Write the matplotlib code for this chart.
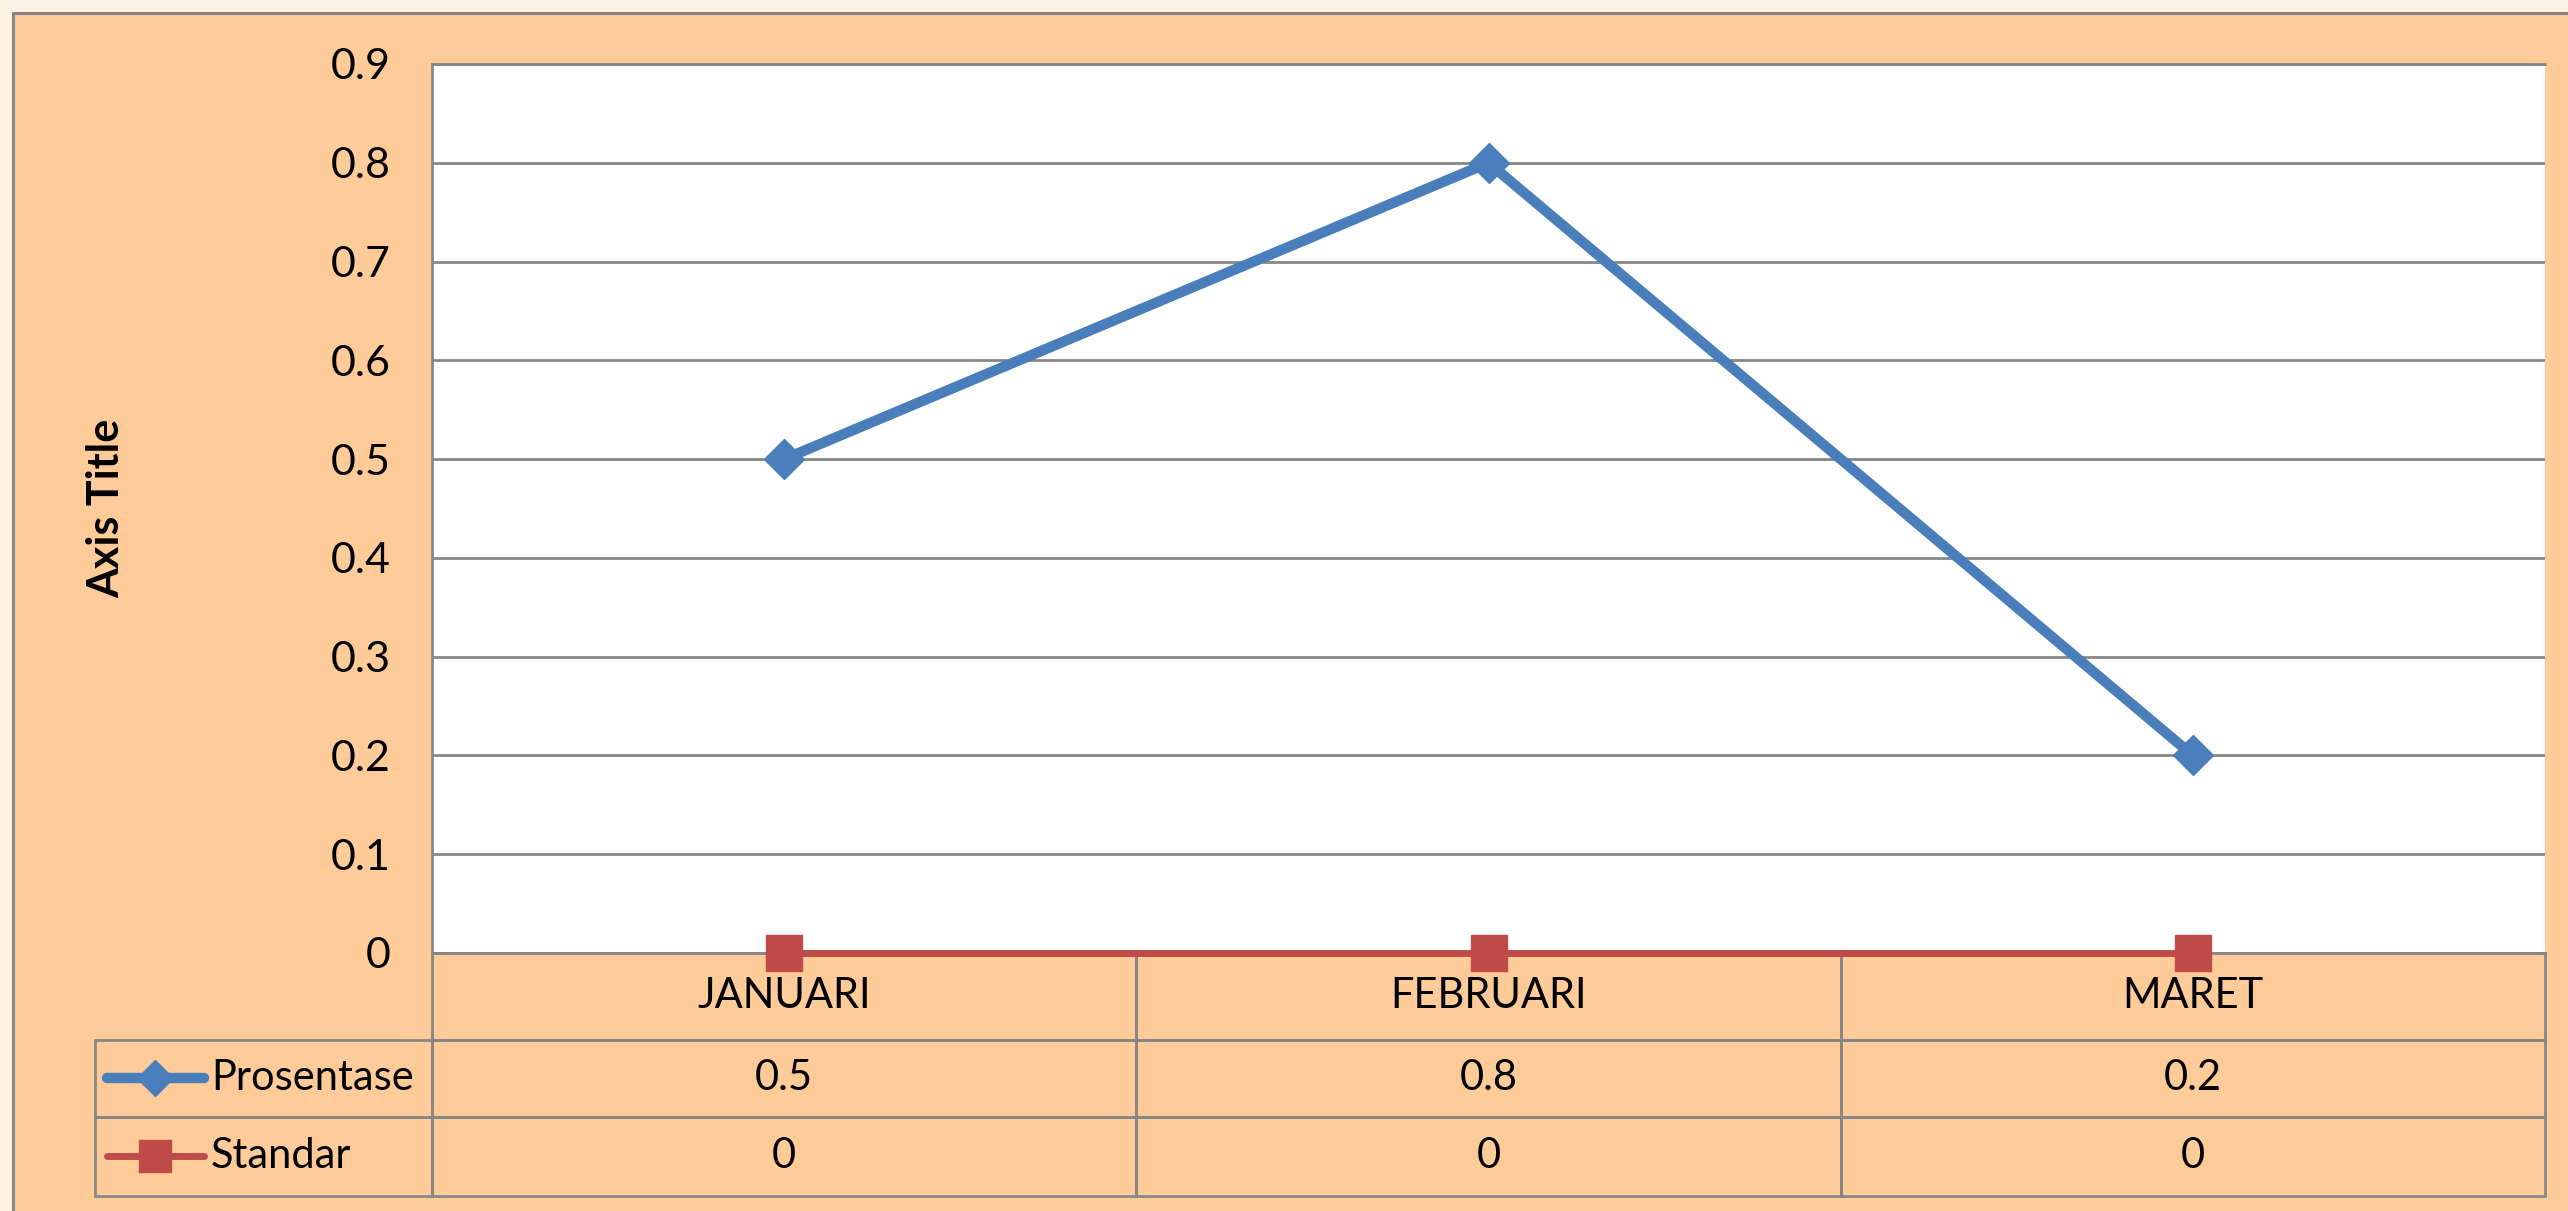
import matplotlib
matplotlib.use("Agg")
import matplotlib.pyplot as plt
from matplotlib.patches import Rectangle
from matplotlib.lines import Line2D
from matplotlib.table import Table
import numpy as np

# -------------------- DATA --------------------
bulan = ["JANUARI", "FEBRUARI", "MARET"]
prosentase = [0.5, 0.8, 0.2]
standar = [0, 0, 0]
series_names = ["Prosentase", "Standar"]
y_ticks = [0, 0.1, 0.2, 0.3, 0.4, 0.5, 0.6, 0.7, 0.8, 0.9]

# -------------------- STYLE --------------------
W, H = 2568, 1211
BLUE = "#4A7EBB"
RED = "#BE4B48"
ORANGE = "#FFCB99"
CREAM = "#FDF3E4"
GRAY = "#878787"
FS = 31
plt.rcParams["font.family"] = ["Lato", "DejaVu Sans"]

fig = plt.figure(figsize=(W / 100, H / 100), dpi=100, facecolor=CREAM)

# chart area (frame runs off the right and bottom edges)
fig.add_artist(Rectangle((13 / W, -0.1), 1.2, 1 - 13 / H + 0.1,
                         transform=fig.transFigure, facecolor=ORANGE,
                         edgecolor=GRAY, linewidth=2.2, zorder=0))

# plot area in pixels: left 432, right 2545, top 64, bottom 953
ax = fig.add_axes([432 / W, 1 - 953 / H, (2545 - 432) / W, (953 - 64) / H])
ax.set_facecolor("white")

x = np.arange(len(bulan))
ax.plot(x, prosentase, color=BLUE, linewidth=7.5, marker="D", markersize=20,
        clip_on=False, zorder=4)
ax.plot(x, standar, color=RED, linewidth=5, marker="s", markersize=26,
        clip_on=False, zorder=4)

ax.set_xlim(-0.5, len(bulan) - 0.5)
ax.set_ylim(0, 0.9)
ax.set_yticks(y_ticks)
ax.set_yticklabels([f"{v:g}" for v in y_ticks])
ax.set_xticks(x)
ax.set_xticklabels([])
ax.tick_params(axis="both", length=0)
ax.tick_params(axis="y", labelsize=FS, pad=30)
ax.grid(axis="y", color=GRAY, linewidth=2)
ax.set_axisbelow(True)
for side in ["left", "top", "bottom"]:
    ax.spines[side].set_color(GRAY)
    ax.spines[side].set_linewidth(2)
ax.spines["right"].set_visible(False)

fig.text(106 / W, 1 - 508 / H, "Axis Title", rotation=90, ha="center",
         va="center", fontsize=31, fontweight="bold")

# -------------------- DATA TABLE --------------------
# table spans x 95..2545 px, y 953..1196 px
tbl = Table(ax, bbox=[(95 - 432) / 2113, (953 - 1196) / 889,
                      (2545 - 95) / 2113, (1196 - 953) / 889])
label_w, col_w = 337, 705
row_h = [87, 77, 79]
for j, b in enumerate(bulan):
    tbl.add_cell(0, j + 1, col_w, row_h[0], text=b, loc="center")
for i, (name, vals) in enumerate(zip(series_names, [prosentase, standar])):
    cell = tbl.add_cell(i + 1, 0, label_w, row_h[i + 1], text=name, loc="left")
    cell.PAD = 116 / label_w
    for j, v in enumerate(vals):
        tbl.add_cell(i + 1, j + 1, col_w, row_h[i + 1], text=f"{v:g}",
                     loc="center")
tbl.auto_set_font_size(False)
tbl.set_fontsize(30)
for cell in tbl.get_celld().values():
    cell.set_facecolor("none")
    cell.set_edgecolor(GRAY)
    cell.set_linewidth(2)
ax.add_table(tbl)

# legend keys inside the row label cells
key_y = [1078, 1156]
for color, mk, ms, lw, ky in zip([BLUE, RED], ["D", "s"], [20, 26],
                                 [7.5, 5], key_y):
    fig.add_artist(Line2D([107 / W, 155 / W, 204 / W], [1 - ky / H] * 3,
                          transform=fig.transFigure, color=color, linewidth=lw,
                          marker=mk, markersize=ms * 0.9, markevery=[1],
                          solid_capstyle="round", zorder=5))

fig.savefig("out.png", dpi=100, facecolor=CREAM)
